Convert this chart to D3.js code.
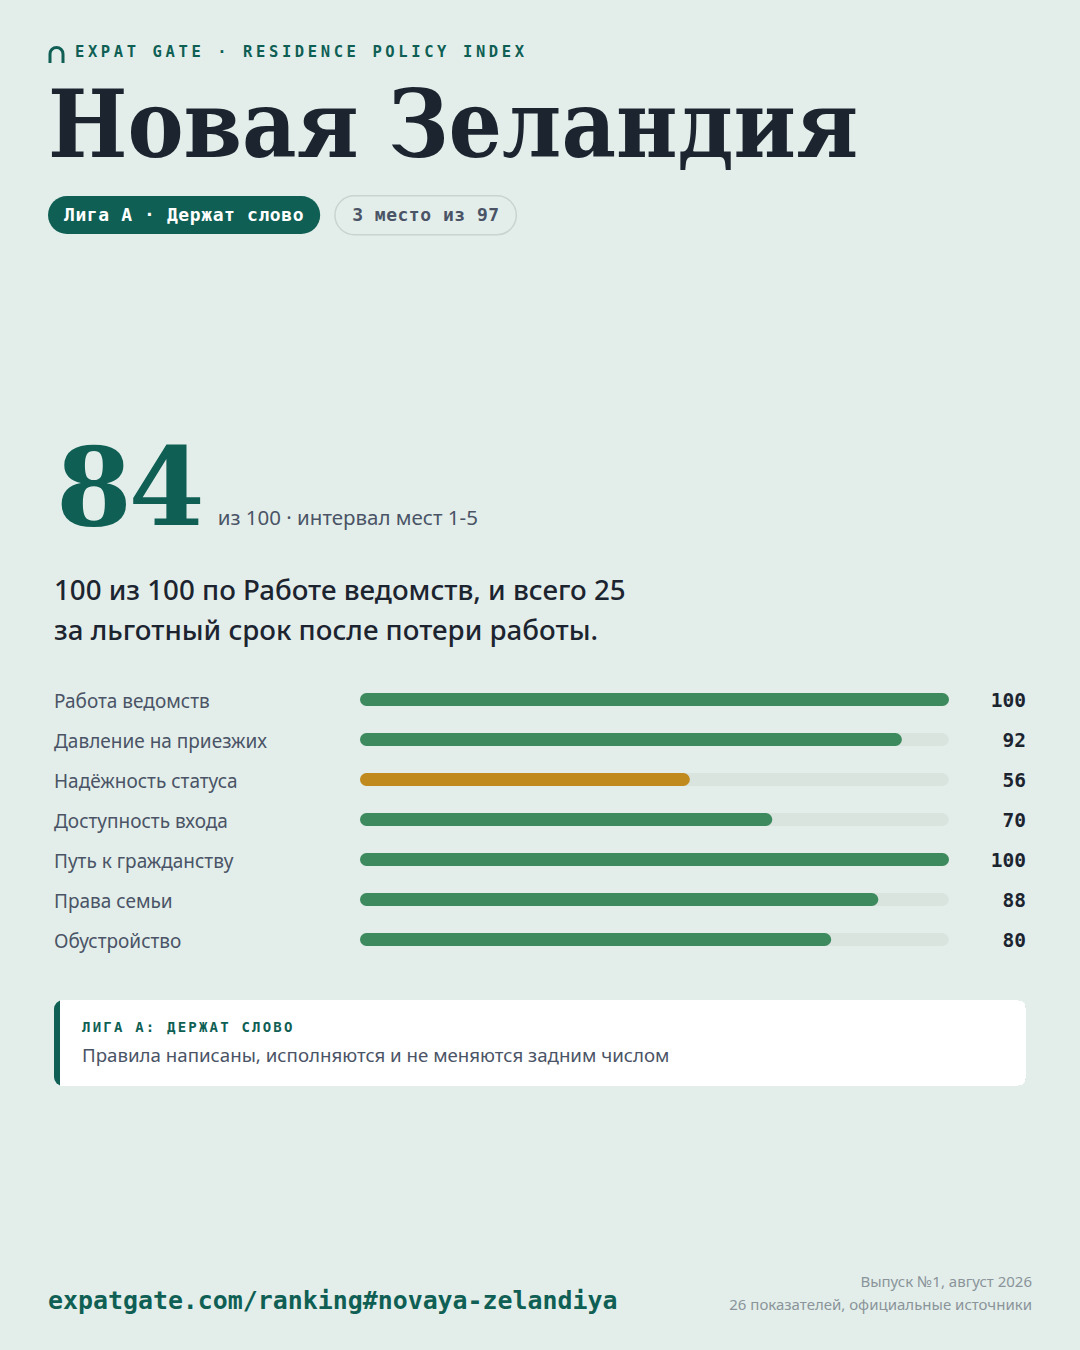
<!DOCTYPE html>
<html>
<head>
<meta charset="utf-8">
<script src="https://cdn.jsdelivr.net/npm/d3@7"></script>
<style>
  html, body { margin: 0; padding: 0; background: #e3eeea; }
  svg { display: block; }
</style>
</head>
<body>
<div id="card"></div>
<script>
// Country card - indicator bars

const categories = [
    'Работа ведомств',
    'Давление на приезжих',
    'Надёжность статуса',
    'Доступность входа',
    'Путь к гражданству',
    'Права семьи',
    'Обустройство'
];
const scores = [100, 92, 56, 70, 100, 88, 80];
const weakFlags = [false, false, true, false, false, false, false];

const headerText = 'EXPAT GATE · RESIDENCE POLICY INDEX';
const countryName = 'Новая Зеландия';
const leagueLabel = 'Лига А · Держат слово';
const rankLabel = '3 место из 97';
const totalScore = 84;
const scoreNote = 'из 100 · интервал мест 1-5';
const headline = ['100 из 100 по Работе ведомств, и всего 25', 'за льготный срок после потери работы.'];
const noteTitle = 'ЛИГА А: ДЕРЖАТ СЛОВО';
const noteText = 'Правила написаны, исполняются и не меняются задним числом';
const footerUrl = 'expatgate.com/ranking#novaya-zelandiya';
const footerMeta = ['Выпуск №1, август 2026', '26 показателей, официальные источники'];

const MONO = '"DejaVu Sans Mono", "Liberation Mono", monospace';
const SERIF = '"DejaVu Serif", "Liberation Serif", serif';
const SERIF_NARROW = '"DejaVu Serif Condensed", "DejaVu Serif", serif';
const SANS = '"Noto Sans", "Open Sans", sans-serif';

const C = {
    bg: '#e3eeea',
    teal: '#0f5f55',
    ink: '#1c2430',
    muted: '#4a5466',
    soft: '#8a949a',
    bar: '#3d8a5f',
    warn: '#c08a1e',
    track: '#dae4df'
};

function drawCard() {
    const width = 1080;
    const height = 1350;

    const svg = d3.select('#card').append('svg')
        .attr('width', width)
        .attr('height', height);

    svg.append('rect')
        .attr('width', width)
        .attr('height', height)
        .attr('fill', C.bg);

    // Header: arch icon + brand line
    svg.append('path')
        .attr('d', 'M50,63 V54 A6.5,6.5 0 0 1 63,54 V63')
        .attr('fill', 'none')
        .attr('stroke', C.teal)
        .attr('stroke-width', 3);

    svg.append('text')
        .attr('x', 75)
        .attr('y', 57)
        .attr('font-family', MONO)
        .attr('font-weight', 700)
        .attr('font-size', '15.5px')
        .attr('letter-spacing', '3.6px')
        .attr('fill', C.teal)
        .text(headerText);

    const title = svg.append('text')
        .attr('x', 48)
        .attr('y', 157)
        .attr('font-family', SERIF_NARROW)
        .attr('font-stretch', 'condensed')
        .attr('font-weight', 700)
        .attr('font-size', '93.5px')
        .attr('fill', C.ink)
        .text(countryName);
    // keep the title on the reference width if the condensed face is missing
    const tw = title.node().getComputedTextLength();
    if (tw > 830) title.attr('letter-spacing', `${-(tw - 808) / countryName.length}px`);

    // Pills
    const pill1 = svg.append('g').attr('transform', 'translate(48,196)');
    const t1 = pill1.append('text')
        .attr('x', 16)
        .attr('y', 25)
        .attr('font-family', MONO)
        .attr('font-weight', 700)
        .attr('font-size', '18px')
        .attr('letter-spacing', '0.6px')
        .attr('fill', '#ffffff')
        .text(leagueLabel);
    const w1 = t1.node().getComputedTextLength() + 32;
    pill1.insert('rect', 'text')
        .attr('width', w1)
        .attr('height', 38)
        .attr('rx', 19)
        .attr('fill', C.teal);

    const pill2 = svg.append('g').attr('transform', `translate(${48 + w1 + 14},195)`);
    const t2 = pill2.append('text')
        .attr('x', 18)
        .attr('y', 26)
        .attr('font-family', MONO)
        .attr('font-weight', 700)
        .attr('font-size', '18px')
        .attr('letter-spacing', '0.5px')
        .attr('fill', C.muted)
        .text(rankLabel);
    const w2 = t2.node().getComputedTextLength() + 34;
    pill2.insert('rect', 'text')
        .attr('x', 0.75)
        .attr('y', 0.75)
        .attr('width', w2)
        .attr('height', 39)
        .attr('rx', 19.5)
        .attr('fill', 'none')
        .attr('stroke', '#c9d3cf')
        .attr('stroke-width', 1.5);

    // Big score
    const big = svg.append('text')
        .attr('x', 56)
        .attr('y', 525)
        .attr('font-family', SERIF)
        .attr('font-weight', 700)
        .attr('font-size', '109px')
        .attr('letter-spacing', '-3px')
        .attr('fill', C.teal)
        .text(totalScore);
    const bigW = big.node().getComputedTextLength();

    svg.append('text')
        .attr('x', 56 + bigW + 16)
        .attr('y', 525)
        .attr('font-family', SANS)
        .attr('font-size', '20.5px')
        .attr('fill', C.muted)
        .text(scoreNote);

    svg.append('g')
        .selectAll('text')
        .data(headline)
        .join('text')
        .attr('x', 54)
        .attr('y', (d, i) => 600 + i * 40)
        .attr('font-family', SANS)
        .attr('font-size', '27.7px')
        .attr('font-weight', 500)
        .attr('fill', C.ink)
        .text(d => d);

    // Indicator bars
    const x = d3.scaleLinear().domain([0, 100]).range([360, 949]);
    const y = d3.scaleBand()
        .domain(categories)
        .range([679.5, 959.5])
        .paddingInner(0);
    const barH = 13;

    const rows = svg.append('g')
        .selectAll('g')
        .data(categories.map((name, i) => ({ name, value: scores[i], weak: weakFlags[i] })))
        .join('g')
        .attr('transform', d => `translate(0,${y(d.name) + y.bandwidth() / 2})`);

    rows.append('text')
        .attr('x', 54)
        .attr('y', 8)
        .attr('font-family', SANS)
        .attr('font-size', '19px')
        .attr('fill', C.muted)
        .text(d => d.name);

    rows.append('rect')
        .attr('x', x(0))
        .attr('y', -barH / 2)
        .attr('width', x(100) - x(0))
        .attr('height', barH)
        .attr('rx', barH / 2)
        .attr('fill', C.track);

    rows.append('rect')
        .attr('x', x(0))
        .attr('y', -barH / 2)
        .attr('width', d => x(d.value) - x(0))
        .attr('height', barH)
        .attr('rx', barH / 2)
        .attr('fill', d => d.weak ? C.warn : C.bar);

    rows.append('text')
        .attr('x', 1026)
        .attr('y', 7)
        .attr('text-anchor', 'end')
        .attr('font-family', MONO)
        .attr('font-weight', 700)
        .attr('font-size', '19.5px')
        .attr('fill', C.ink)
        .text(d => d.value);

    // League note
    const note = svg.append('g').attr('transform', 'translate(54,1000)');
    note.append('rect')
        .attr('width', 972)
        .attr('height', 86)
        .attr('rx', 9)
        .attr('fill', C.teal);
    note.append('rect')
        .attr('x', 6)
        .attr('width', 966)
        .attr('height', 86)
        .attr('rx', 8)
        .attr('fill', '#ffffff');
    note.append('rect')
        .attr('x', 6)
        .attr('width', 12)
        .attr('height', 86)
        .attr('fill', '#ffffff');
    note.append('text')
        .attr('x', 28)
        .attr('y', 32)
        .attr('font-family', MONO)
        .attr('font-weight', 700)
        .attr('font-size', '14px')
        .attr('letter-spacing', '2.2px')
        .attr('fill', C.teal)
        .text(noteTitle);
    note.append('text')
        .attr('x', 28)
        .attr('y', 62)
        .attr('font-family', SANS)
        .attr('font-size', '18.7px')
        .attr('fill', C.muted)
        .text(noteText);

    // Footer
    svg.append('text')
        .attr('x', 48)
        .attr('y', 1309)
        .attr('font-family', MONO)
        .attr('font-weight', 700)
        .attr('font-size', '24.9px')
        .attr('fill', C.teal)
        .text(footerUrl);

    svg.append('g')
        .selectAll('text')
        .data(footerMeta)
        .join('text')
        .attr('x', 1032)
        .attr('y', (d, i) => 1287 + i * 23)
        .attr('text-anchor', 'end')
        .attr('font-family', SANS)
        .attr('font-size', '15px')
        .attr('fill', C.soft)
        .text(d => d);
}

drawCard();
</script>
</body>
</html>
